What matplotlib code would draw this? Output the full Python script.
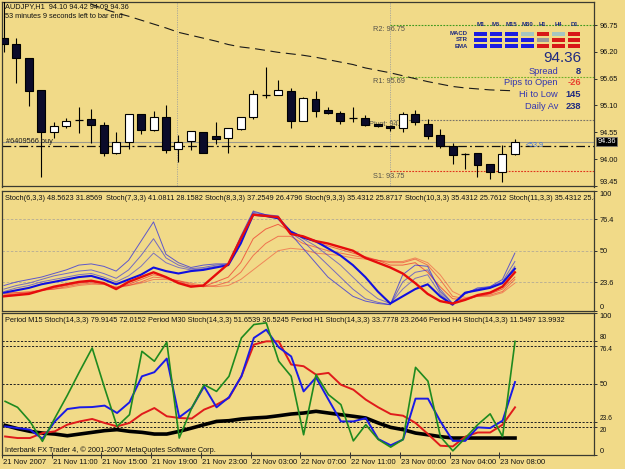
import matplotlib
matplotlib.use('Agg')
import matplotlib.pyplot as plt
import matplotlib.transforms as mtransforms
from matplotlib.patches import Rectangle

plt.rcParams['font.family'] = ['Liberation Sans', 'DejaVu Sans']

W, H = 625, 469
BG = '#f1da88'

# ------------------------------------------------------------------ data
symbol_title = 'AUDJPY,H1  94.10 94.42 94.09 94.36'
timer_text = '53 minutes 9 seconds left to bar end'

opens = [96.49, 96.37, 96.07, 95.42, 94.55, 94.67, 94.81, 94.82, 94.71, 94.12, 94.35, 94.92, 94.60, 94.87,
         94.20, 94.38, 94.56, 94.47, 94.43, 94.62, 94.87, 95.32, 95.31, 95.40, 94.79, 95.23, 95.01, 94.94,
         94.84, 94.84, 94.72, 94.67, 94.63, 94.92, 94.72, 94.49, 94.26, 94.11, 94.12, 93.91, 93.74, 94.10]
highs = [97.30, 96.49, 96.07, 95.42, 94.76, 94.84, 95.06, 95.02, 94.77, 94.56, 94.92, 94.92, 94.99, 95.12,
         94.50, 94.58, 94.56, 94.76, 94.63, 94.87, 95.42, 95.88, 95.62, 95.45, 95.28, 95.40, 95.06, 94.99,
         95.06, 94.91, 94.72, 94.68, 94.97, 95.01, 94.82, 94.61, 94.33, 94.12, 94.13, 93.91, 94.29, 94.42]
lows = [96.20, 95.57, 95.08, 93.63, 94.43, 94.64, 94.54, 94.33, 94.06, 94.11, 94.20, 94.52, 94.58, 94.13,
        93.94, 94.19, 94.12, 94.31, 94.13, 94.60, 94.82, 95.26, 95.31, 94.64, 94.79, 94.87, 94.92, 94.73,
        94.77, 94.68, 94.65, 94.58, 94.56, 94.70, 94.41, 94.23, 93.91, 93.79, 93.63, 93.59, 93.54, 94.09]
closes = [96.37, 96.07, 95.40, 94.56, 94.68, 94.79, 94.82, 94.69, 94.13, 94.36, 94.92, 94.60, 94.86, 94.19,
          94.35, 94.58, 94.13, 94.41, 94.63, 94.87, 95.33, 95.31, 95.42, 94.79, 95.26, 94.99, 94.94, 94.79,
          94.83, 94.70, 94.67, 94.63, 94.92, 94.76, 94.47, 94.26, 94.09, 94.10, 93.89, 93.74, 94.10, 94.36]

ma_long = [97.77, 97.68, 97.60, 97.52, 97.43, 97.35, 97.26, 97.18, 97.08, 97.00, 96.93, 96.85, 96.77, 96.69,
           96.60, 96.54, 96.48, 96.42, 96.35, 96.30, 96.27, 96.23, 96.19, 96.16, 96.13, 96.09, 96.04, 95.99,
           95.94, 95.87, 95.82, 95.77, 95.71, 95.65, 95.59, 95.54, 95.49, 95.46, 95.44, 95.42, 95.41, 95.40]

bid_price = 94.36
order_price = 94.27
order_label = '#6409566 buy'
order_profit = '<53.9'

pivot_names = ['R2', 'R1', 'Pivot', 'S1']
pivot_values = [96.75, 95.69, 94.81, 93.75]
pivot_colors = ['#3f9a1e', '#6fb02a', '#7a7468', '#e0341c']
pivot_start_bar = 31
separator_bars = [13.9, 31.0]

price_ticks = [96.75, 96.20, 95.65, 95.10, 94.55, 94.00, 93.45]

# info panel
grid_cols = ['M1', 'M5', 'M15', 'M30', 'H1', 'H4', 'D1']
grid_rows = ['MACD', 'STR', 'EMA']
grid_state = [['b', 'b', 'b', 'l', 'r', 'l', 'r'],
              ['b', 'b', 'b', 'b', 'g', 'r', 'r'],
              ['b', 'b', 'b', 'b', 'r', 'r', 'r']]
state_colors = {'b': '#1c1ce0', 'r': '#d81818', 'l': '#a6c6c0', 'g': '#9a9a9a'}
info_price = '94.36'
info_labels = ['Spread', 'Pips to Open', 'Hi to Low', 'Daily Av']
info_values = ['8', '-26', '145', '238']
info_value_colors = ['#1f2a80', '#e8402f', '#1f2a80', '#1f2a80']

# stochastic ribbon (main = blue, signal = red), fast -> slow
stoch_header = ['Stoch(6,3,3) 48.5623 31.8569', 'Stoch(7,3,3) 41.0811 28.1582',
                'Stoch(8,3,3) 37.2549 26.4796', 'Stoch(9,3,3) 35.4312 25.8717',
                'Stoch(10,3,3) 35.4312 25.7612', 'Stoch(11,3,3) 35.4312 25.8']
blue1 = [21, 24, 26, 28, 31, 34, 38, 39, 37, 33, 42, 58, 74, 47, 40, 36, 38, 39, 39, 62, 83, 80, 79, 64, 52,
         40, 28, 20, 12, 8, 6, 5, 30, 38, 37, 16, 6, 14, 19, 20, 26, 48]
blue2 = [18, 21, 23, 26, 29, 31, 33, 34, 31, 27, 34, 46, 60, 44, 38, 35, 36, 38, 39, 60, 82, 80, 78, 65, 58,
         48, 38, 28, 18, 10, 7, 5, 24, 32, 34, 18, 6, 14, 18, 20, 24, 41]
blue3 = [16, 19, 21, 24, 26, 28, 30, 31, 28, 24, 29, 37, 48, 40, 36, 34, 35, 37, 38, 58, 81, 79, 77, 66, 60,
         54, 46, 38, 28, 18, 10, 6, 18, 27, 30, 14, 5, 15, 18, 19, 23, 37]
blue4 = [15, 17, 19, 22, 24, 26, 28, 29, 26, 22, 26, 30, 36, 33, 31, 33, 34, 36, 38, 56, 80, 79, 77, 66, 61,
         58, 52, 46, 38, 28, 16, 6, 12, 18, 22, 12, 5, 15, 17, 19, 23, 35]
red1 = [12, 13, 14, 17, 20, 22, 24, 25, 23, 18, 24, 28, 32, 28, 23, 20, 21, 30, 39, 60, 80, 79, 78, 64, 62,
        58, 56, 53, 50, 44, 40, 36, 31, 23, 14, 8, 6, 9, 13, 15, 20, 32]
red2 = [13, 14, 15, 17, 19, 21, 23, 24, 23, 19, 22, 26, 30, 28, 24, 21, 20, 24, 28, 40, 60, 68, 72, 66, 61,
        57, 54, 51, 48, 45, 42, 38, 38, 40, 32, 20, 10, 9, 12, 14, 18, 28]
red3 = [14, 15, 15, 17, 18, 20, 22, 23, 22, 19, 21, 24, 28, 27, 25, 22, 20, 21, 24, 32, 46, 56, 62, 62, 56,
        53, 50, 48, 46, 44, 42, 40, 40, 43, 38, 26, 12, 10, 12, 13, 16, 26]
red4 = [15, 15, 16, 17, 18, 19, 21, 22, 22, 20, 21, 23, 26, 26, 25, 23, 21, 20, 21, 26, 34, 42, 50, 52, 51,
        48, 47, 46, 44, 43, 42, 41, 41, 44, 40, 30, 16, 11, 12, 12, 15, 23]

# multi-timeframe stochastic
mtf_header = ['Period M15 Stoch(14,3,3) 79.9145 72.0152', 'Period M30 Stoch(14,3,3) 51.6539 36.5245',
              'Period H1 Stoch(14,3,3) 33.7778 23.2646', 'Period H4 Stoch(14,3,3) 11.5497 13.9932']
stoch_m15 = [37.8, 33.6, 23.7, 9.7, 26, 42, 59, 75.3, 47.2, 20.2, 28.4, 73, 66, 79.4, 12, 33, 49.5, 44.8,
             55.4, 82.4, 91.8, 93, 66, 55.4, 14.3, 56.6, 42.5, 35.5, 10, 21.4, 11, 5.6, 11, 61.7, 52, 13, 3,
             12, 21.4, 29, 13, 80]
stoch_m30 = [20.2, 19, 17.9, 11.5, 23.7, 32.4, 33.6, 33.8, 34.8, 29.6, 37.1, 55.4, 58.3, 67.9, 26.6, 33.1,
             48.3, 33.6, 40.7, 55.4, 82.4, 88.2, 75.8, 69.4, 44.8, 54.6, 39, 23.7, 23.7, 26, 11.3, 6.9, 11,
             39.7, 39.7, 23.7, 10, 10, 19.5, 19, 24.2, 51.4]
stoch_h1 = [13.1, 12, 12, 15.5, 16.7, 21.4, 23.7, 25.4, 22.6, 20.2, 22.6, 28.9, 33.1, 27.3, 26.1, 25.7, 32,
            35.5, 40.2, 55.4, 77.7, 80, 80, 63.7, 62.5, 56.6, 57.8, 49.5, 46, 39, 33.6, 28.9, 27.7, 22.6,
            14.8, 6.6, 6.1, 13, 15.9, 15.9, 21.4, 33.6]
stoch_h4 = [20.9, 18.6, 16.7, 15.5, 14.8, 13.6, 14.8, 16, 17.2, 17.9, 16.7, 16, 14.8, 14.8, 16.7, 19, 21.4,
            23.7, 24.2, 25.4, 26.1, 26.6, 27.7, 28.9, 29.6, 30.8, 29.6, 28.4, 27.3, 26.1, 22.6, 19.5, 17.9,
            15.5, 14.3, 13, 12, 12, 12, 12, 12, 12]

ribbon_levels = [76.4, 50, 23.6]
ribbon_ticks = [100, 76.4, 50, 23.6, 0]
mtf_levels = [80, 76.4, 50, 23.6, 20]
mtf_ticks = [100, 80, 76.4, 50, 23.6, 20, 0]

date_bars = [0, 4, 8, 12, 16, 20, 24, 28, 32, 36, 40]
date_labels = ['21 Nov 2007', '21 Nov 11:00', '21 Nov 15:00', '21 Nov 19:00', '21 Nov 23:00',
               '22 Nov 03:00', '22 Nov 07:00', '22 Nov 11:00', '23 Nov 00:00', '23 Nov 04:00',
               '23 Nov 08:00']
footer = 'Interbank FX Trader 4, \u00a9 2001-2007 MetaQuotes Software Corp.'

# ------------------------------------------------------------------ layout
FS = 5.3
n = len(opens)
x = list(range(n))
XL = (-0.16, 47.35)


def fx(px):
    return px / W


def fy(py):
    return 1 - py / H


fig = plt.figure(figsize=(W / 100, H / 100), dpi=100, facecolor=BG)
ax1 = fig.add_axes([fx(2), fy(186.5), 592 / W, (186.5 - 1.7) / H])
ax2 = fig.add_axes([fx(2), fy(310.7), 592 / W, (310.7 - 190.7) / H])
ax3 = fig.add_axes([fx(2), fy(455.1), 592 / W, (455.1 - 312.9) / H])

for ax in (ax1, ax2, ax3):
    ax.set_facecolor(BG)
    ax.set_xlim(*XL)
    for s in ax.spines.values():
        s.set_color('#3a3a30')
        s.set_linewidth(0.9)
    ax.yaxis.tick_right()
    ax.tick_params(axis='y', which='both', direction='out', length=2.5, width=0.7, color='#303030',
                   labelsize=FS, pad=1.5, labelcolor='#111111')
    ax.tick_params(axis='x', which='both', bottom=False, labelbottom=False)

# ---------------- panel 1: candles
ax1.set_ylim(93.439, 97.228)
ax1.set_yticks(price_ticks)
ax1.set_yticklabels(['%.2f' % v for v in price_ticks])
ax1.get_yticklabels()[-1].set_va('bottom')

for b in separator_bars:
    ax1.axvline(b, color='#aaa89a', lw=0.7, ls=(0, (1.2, 1.2)), zorder=1)

for name, val, col in zip(pivot_names, pivot_values, pivot_colors):
    ax1.hlines(val, pivot_start_bar - 0.02, XL[1], color=col, lw=0.8, ls=(0, (1.6, 1.2)), zorder=1)
    lx = 29.3 if name == 'Pivot' else 29.6
    ax1.text(lx, val - 0.03, '%s: %.2f' % (name, val), fontsize=FS, color='#55524a',
             ha='left', va='top', zorder=1)

ax1.axhline(bid_price, color='#9c9a8c', lw=0.8, zorder=1)
ax1.axhline(order_price, color='#111111', lw=0.9, ls=(0, (7, 2.5, 1.5, 2.5)), zorder=1)
ax1.text(0.15, order_price + 0.02, order_label, fontsize=FS, color='#1a1a1a', ha='left', va='bottom', zorder=4)
ax1.text(41.9, order_price, order_profit, fontsize=5, color='#3a70e0', ha='left', va='center', zorder=4)

ax1.plot(x, ma_long, color='#1a1a1a', lw=0.8, ls=(0, (9, 5)), zorder=2)

for i in x:
    o, h, l, c = opens[i], highs[i], lows[i], closes[i]
    ax1.vlines(i, l, h, color='black', lw=0.8, zorder=3)
    if abs(c - o) < 0.015:
        ax1.hlines(o, i - 0.32, i + 0.32, color='black', lw=0.9, zorder=4)
    else:
        fc = 'white' if c > o else '#0b0b2a'
        ax1.bar(i, abs(c - o), bottom=min(o, c), width=0.64, color=fc, edgecolor='black',
                lw=0.8, zorder=4)

blend1 = mtransforms.blended_transform_factory(ax1.transAxes, ax1.transData)
ax1.text(1.006, bid_price, '94.36', transform=blend1, fontsize=FS, color='white', ha='left', va='center',
         bbox=dict(boxstyle='square,pad=0.15', fc='black', ec='#777777', lw=0.5), zorder=6, clip_on=False)

fig.text(fx(5), fy(7), symbol_title, fontsize=FS, color='#111111', va='center')
fig.text(fx(5), fy(16), timer_text, fontsize=FS, color='#111111', va='center')

# info grid
col_x = [480.5, 496.1, 511.7, 527.3, 542.9, 558.5, 574.1]
row_y = [33.7, 39.7, 46.0]
for j, name in enumerate(grid_cols):
    fig.text(fx(col_x[j]), fy(25), name, fontsize=4.3, color='#1f2a80', ha='center', va='center',
             fontweight='bold')
for r, rname in enumerate(grid_rows):
    fig.text(fx(468), fy(row_y[r]), rname, fontsize=4.3, color='#1f2a80', ha='right', va='center',
             fontweight='bold')
    for j, st in enumerate(grid_state[r]):
        fig.add_artist(Rectangle((fx(col_x[j] - 6.3), fy(row_y[r] + 2.1)), 12.6 / W, 4.2 / H,
                                 transform=fig.transFigure, fc=state_colors[st], ec='none', zorder=5))

fig.text(fx(581), fy(58), info_price, fontsize=11, color='#1f2a80', ha='right', va='center')
info_y = [71, 82.7, 94.3, 106]
for lab, val, vc, yy in zip(info_labels, info_values, info_value_colors, info_y):
    fig.text(fx(558), fy(yy), lab, fontsize=6.7, color='#3436b0', ha='right', va='center')
    fig.text(fx(581), fy(yy), val, fontsize=6.7, color=vc, ha='right', va='center', fontweight='bold')

# ---------------- panel 2: stochastic ribbon
ax2.set_ylim(0, 100)
ax2.set_yticks(ribbon_ticks)
ax2.set_yticklabels(['%g' % v for v in ribbon_ticks])
labs = ax2.get_yticklabels()
labs[0].set_va('top')
labs[-1].set_va('bottom')
for lv in ribbon_levels:
    ax2.axhline(lv, color='#b3ab96', lw=0.6, ls=(0, (3, 2)), zorder=1)

for series, a in ((red4, 0.45), (red3, 0.55), (red2, 0.65)):
    ax2.plot(x, series, color='#ee2020', lw=0.7, alpha=a, zorder=2)
for series, a in ((blue1, 0.7), (blue2, 0.6), (blue3, 0.55)):
    ax2.plot(x, series, color='#2020e6', lw=0.7, alpha=a, zorder=3)
ax2.plot(x, blue4, color='#1010e0', lw=1.5, zorder=4)
ax2.plot(x, red1, color='#e60c0c', lw=1.7, zorder=4)

hx = [5, 105.7, 205, 305, 405, 509]
for px, t in zip(hx, stoch_header):
    ax2.text((px - 2) / 592, (310.7 - 199) / 120, t, transform=ax2.transAxes, fontsize=FS,
             color='#111111', ha='left', va='center', clip_on=True)

# ---------------- panel 3: multi timeframe stochastic
ax3.set_ylim(0, 100)
ax3.set_yticks(mtf_ticks)
ax3.set_yticklabels(['%g' % v for v in mtf_ticks])
labs = ax3.get_yticklabels()
va_map = {100: 'top', 80: 'bottom', 76.4: 'top', 50: 'center', 23.6: 'bottom', 20: 'top', 0: 'bottom'}
for t, lab in zip(mtf_ticks, labs):
    lab.set_va(va_map[t])
    if t in (80, 76.4, 23.6, 20):
        lab.set_fontsize(4.8)
for lv in mtf_levels:
    ax3.axhline(lv, color='#202020', lw=0.7, ls=(0, (2.2, 1.6)), zorder=1)

ax3.plot(x, stoch_h4, color='black', lw=2.6, zorder=2)
ax3.plot(x, stoch_h1, color='#e01b1b', lw=1.4, zorder=3)
ax3.plot(x, stoch_m30, color='#1a1ae6', lw=1.4, zorder=4)
ax3.plot(x, stoch_m15, color='#1f8a1f', lw=1.2, zorder=5)

mx = [5, 147.7, 290.7, 429.3]
for px, t in zip(mx, mtf_header):
    ax3.text((px - 2) / 592, (455.1 - 320.3) / 142.2, t, transform=ax3.transAxes, fontsize=FS,
             color='#111111', ha='left', va='center', clip_on=True)
ax3.text(3 / 592, (455.1 - 449.7) / 142.2, footer, transform=ax3.transAxes, fontsize=FS,
         color='#111111', ha='left', va='center')

ax3.set_xticks([b - 0.25 for b in date_bars])
ax3.tick_params(axis='x', bottom=True, direction='inout', length=4, width=0.7, color='#303030')
blend3 = mtransforms.blended_transform_factory(ax3.transData, ax3.transAxes)
for b, lab in zip(date_bars, date_labels):
    ax3.text(b - 0.17, (455.1 - 462.5) / 142.2, lab, transform=blend3, fontsize=5.5, color='#111111',
             ha='left', va='center', clip_on=False)

fig.savefig('out.png', dpi=100, facecolor=BG)
